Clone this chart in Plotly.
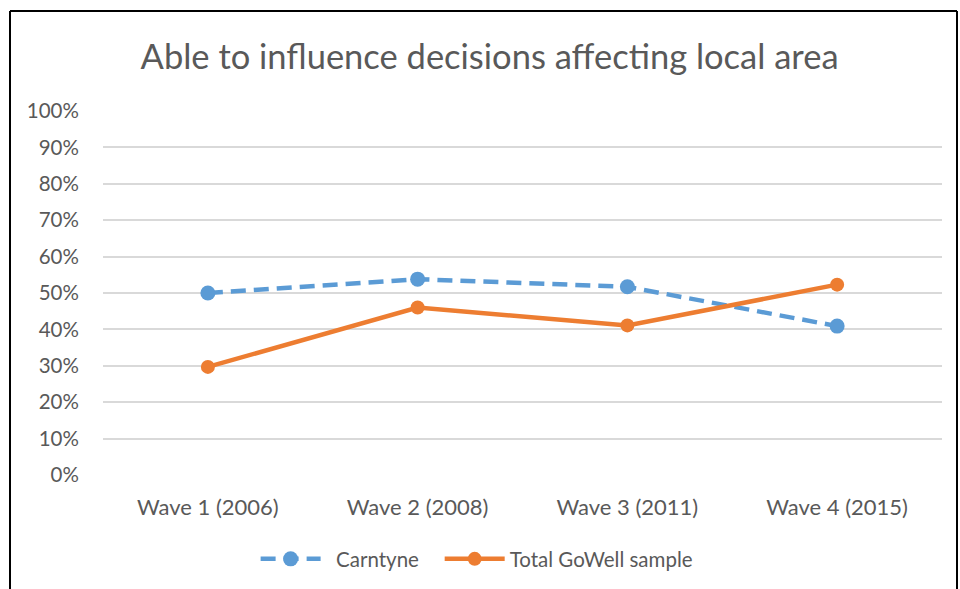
import plotly.graph_objects as go

categories = ["Wave 1 (2006)", "Wave 2 (2008)", "Wave 3 (2011)", "Wave 4 (2015)"]
carntyne = [0.50, 0.538, 0.517, 0.409]
total_gowell = [0.297, 0.460, 0.411, 0.523]
y_ticks = [i / 10 for i in range(11)]
y_tick_labels = [f"{i * 10}%" for i in range(11)]

BLUE = "#5B9BD5"
ORANGE = "#ED7D31"
TXT = "#595959"
FONT = "Lato"

fig = go.Figure()
fig.add_trace(go.Scatter(
    x=categories, y=carntyne, name="\u00a0\u00a0Carntyne" + "\u00a0" * 3, mode="lines+markers",
    line=dict(color=BLUE, width=4.5, dash="15px,8px"),
    marker=dict(color=BLUE, size=15),
))
fig.add_trace(go.Scatter(
    x=categories, y=total_gowell, name="Total GoWell sample", mode="lines+markers",
    line=dict(color=ORANGE, width=4.5),
    marker=dict(color=ORANGE, size=14),
))

L, R, T, B = 103, 18, 111, 114
W, H = 960, 589
pw = W - L - R
ph = H - T - B

def px_x(p):
    return (p - L) / pw

def px_y(p):
    return (H - B - p) / ph

# outer frame (chart border, cropped at bottom)
frame = dict(type="line", xref="paper", yref="paper", line=dict(color="#000000", width=2), layer="above")
fig.add_shape(**frame, x0=px_x(10), x1=px_x(10), y0=px_y(11), y1=px_y(620))
fig.add_shape(**frame, x0=px_x(10), x1=px_x(957), y0=px_y(11), y1=px_y(11))
fig.add_shape(**frame, x0=px_x(957), x1=px_x(957), y0=px_y(11), y1=px_y(620))

fig.update_layout(
    width=W, height=H,
    margin=dict(l=L, r=R, t=T, b=B),
    paper_bgcolor="white", plot_bgcolor="white",
    font=dict(family=FONT, color=TXT, size=20),
    title=dict(
        text="Able to influence decisions affecting local area",
        font=dict(family=FONT, size=34.5, color=TXT),
        x=0.51, xref="container", xanchor="center",
        y=1 - 57 / H, yref="container", yanchor="middle",
    ),
    xaxis=dict(
        type="category", range=[-0.5, 3.5],
        showgrid=False, showline=False, zeroline=False,
        ticks="outside", ticklen=13, tickcolor="rgba(0,0,0,0)",
        tickfont=dict(size=22, color=TXT),
    ),
    yaxis=dict(
        range=[0, 1], tickvals=y_ticks, ticktext=y_tick_labels,
        showgrid=True, gridcolor="#D9D9D9", gridwidth=1.5,
        zeroline=False, showline=False,
        ticks="outside", ticklen=19, tickcolor="rgba(0,0,0,0)",
        tickfont=dict(size=20.5, color=TXT),
    ),
    legend=dict(
        orientation="h", xref="container", yref="container",
        x=0.497, xanchor="center", y=1 - 559 / H, yanchor="middle",
        font=dict(size=20.5, color=TXT), itemwidth=60,
    ),
    showlegend=True,
)

fig.write_html("out.html", post_script="document.body.style.margin='0';",
               config={"displayModeBar": False})
